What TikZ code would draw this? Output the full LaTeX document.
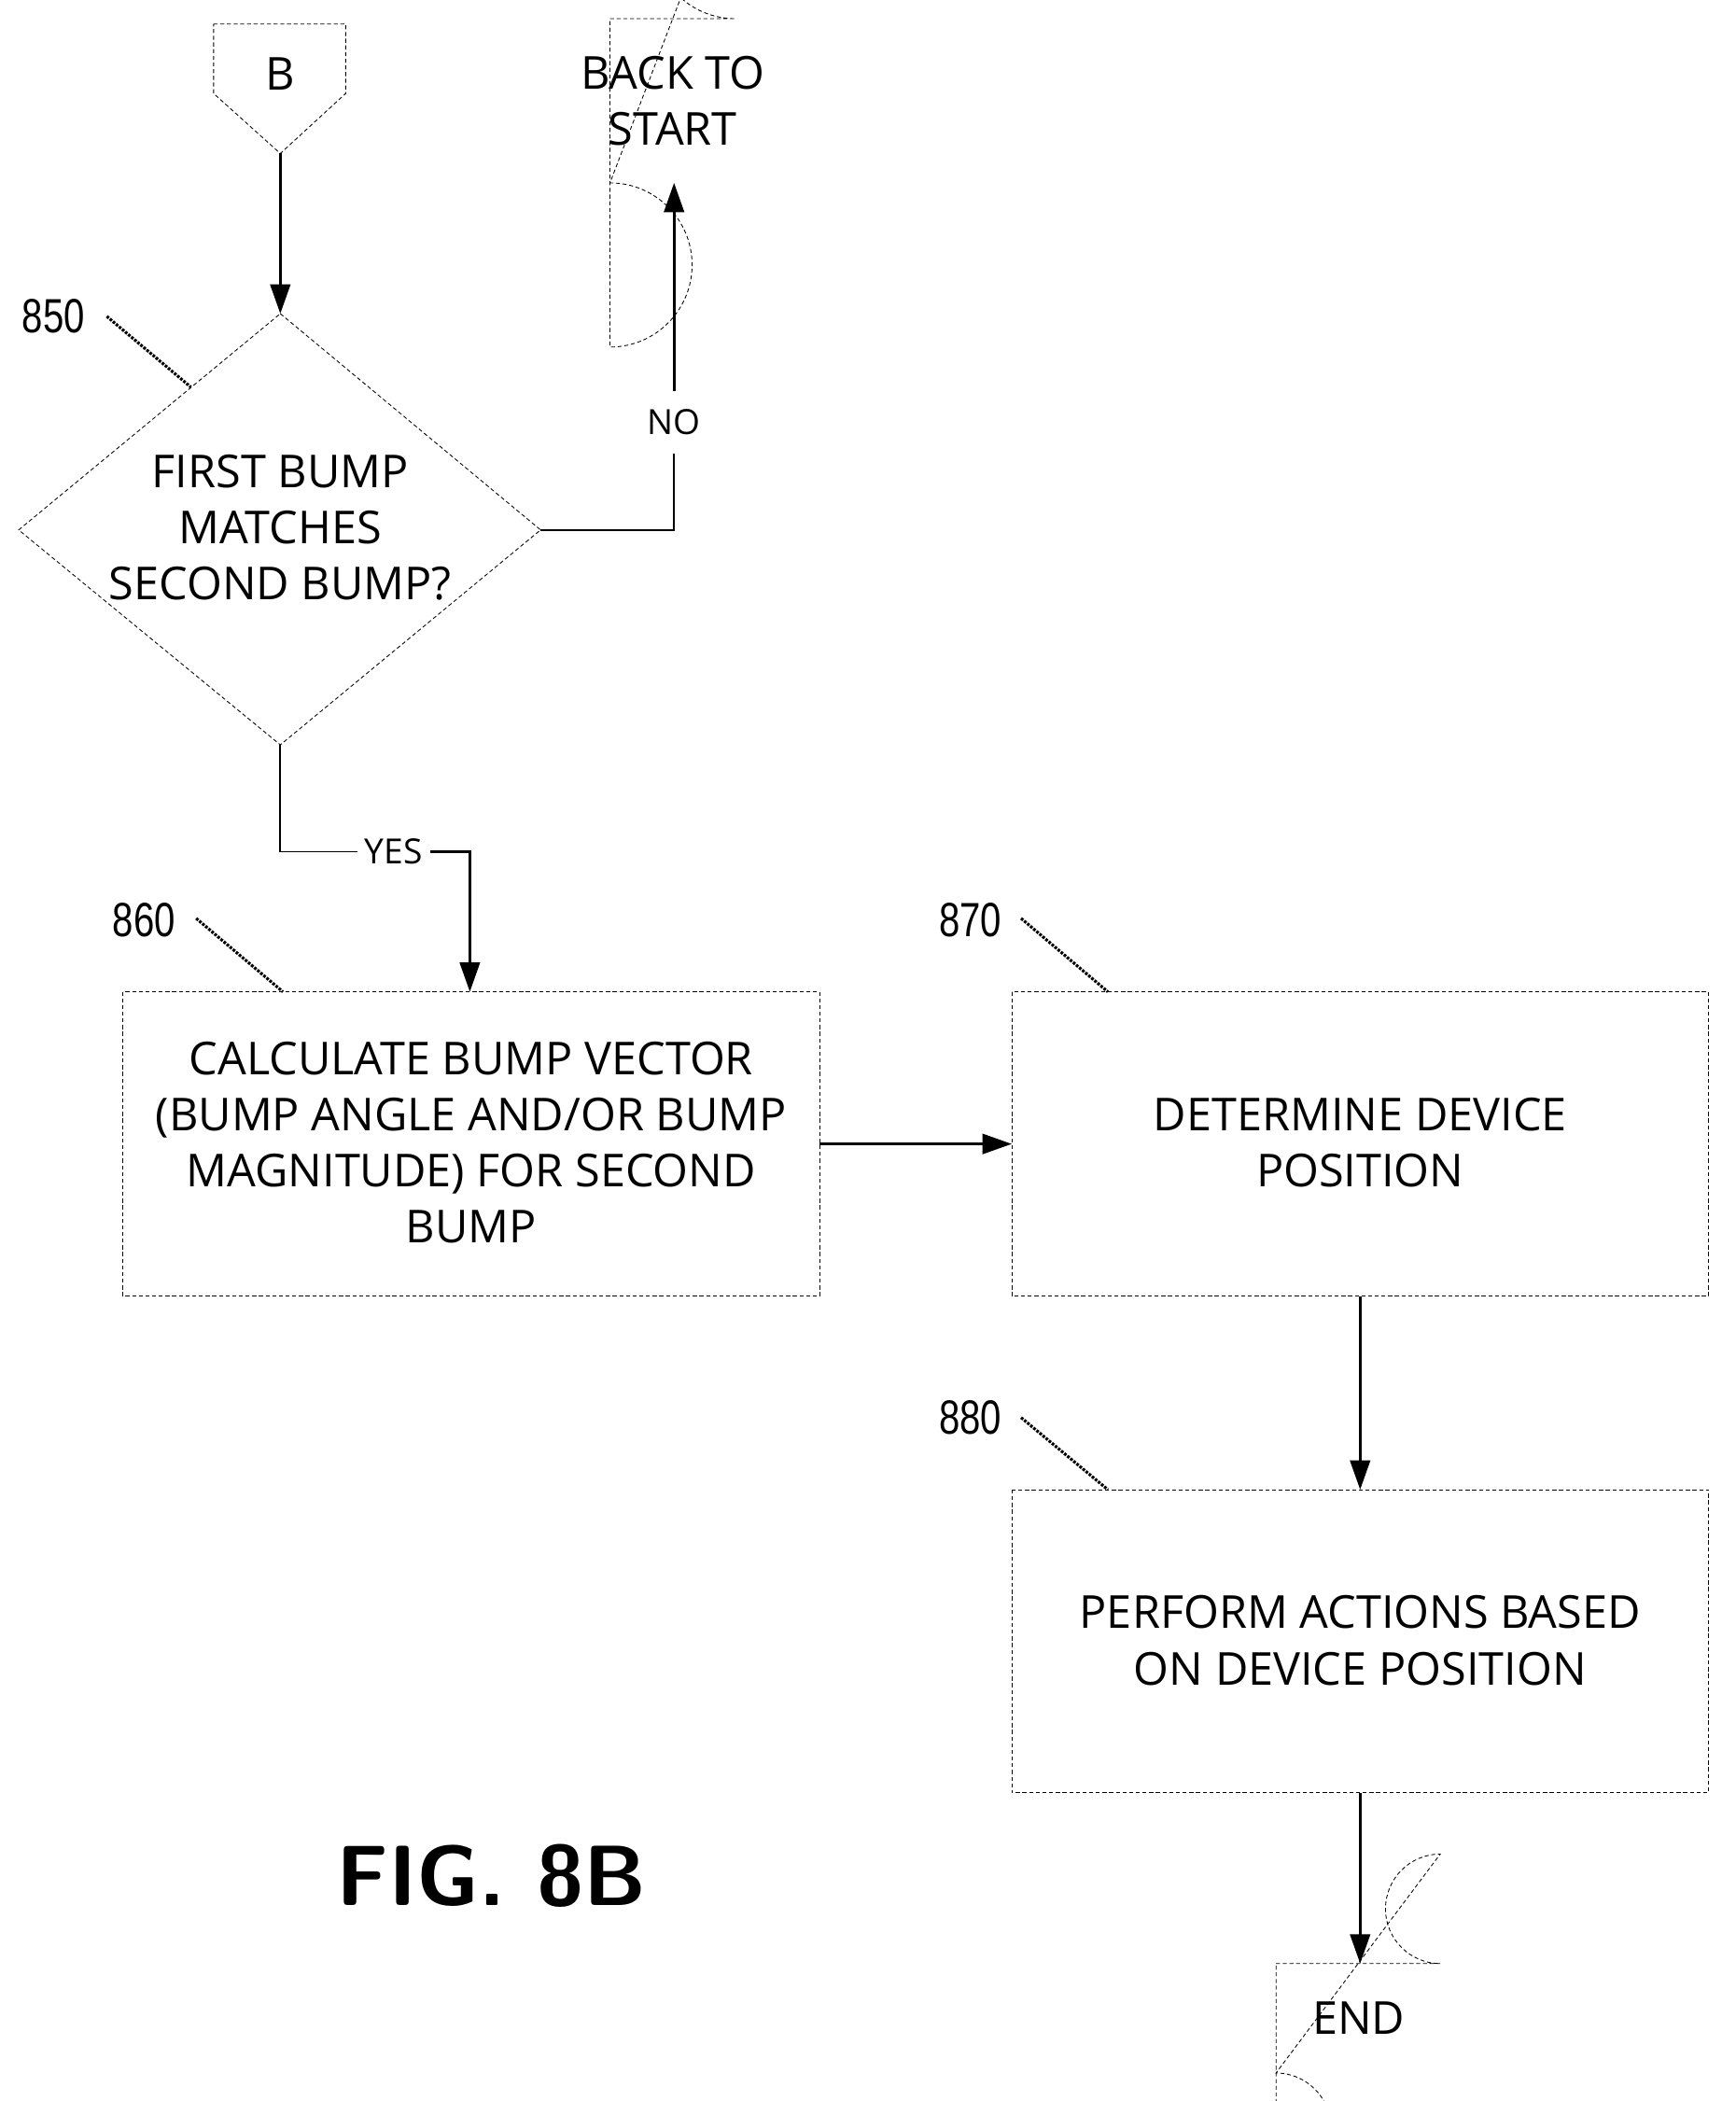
\documentclass[tikz,border=0pt]{standalone}
\usepackage{fontspec}
\setmainfont{Open Sans}
\newfontfamily\numfont{Liberation Sans}
\usetikzlibrary{arrows.meta,shapes.geometric}
\begin{document}
\begin{tikzpicture}[x=1pt,y=-1pt,
  box/.style={draw,dash pattern=on 3pt off 2pt,line width=0.6pt},
  txt/.style={font=\fontsize{34}{42}\selectfont,align=center},
  arr/.style={line width=2pt,-{Triangle[width=15pt,length=22pt]}},
  lead/.style={line width=2.2pt,dash pattern=on 2pt off 1pt},
  num/.style={font=\numfont\fontsize{36}{40}\selectfont,xscale=0.78}]
\useasboundingbox (0,0) rectangle (1300,1574);
% B connector
\draw[box] (160,18) -- (259,18) -- (259,70) -- (210,115) -- (160,70) -- cycle;
\node[txt] (B) at (210,55) {B};
\coordinate (Bb) at (210,115);
% back to start
\draw[box] (457,14) -- (551,14) arc[start angle=-90,end angle=90,radius=-61.5] -- (457,137) arc[start angle=90,end angle=270,radius=-61.5] -- cycle;
\node[txt] (bts) at (504,75.5) {BACK TO\\START};
\coordinate (btsb) at (505,137);
% diamond
\draw[box] (210,235) -- (405,397) -- (210,558) -- (14,397) -- cycle;
\coordinate (dt) at (210,235); \coordinate (dr) at (405,397); \coordinate (db) at (210,558);
\node[txt] (d) at (210,395) {FIRST BUMP\\MATCHES\\SECOND BUMP?};
% boxes
\draw[box] (92,743) rectangle (614,971);
\node[txt] (b860) at (353,856) {CALCULATE BUMP VECTOR\\(BUMP ANGLE AND/OR BUMP\\MAGNITUDE) FOR SECOND\\BUMP};
\draw[box] (758,743) rectangle (1280,971);
\node[txt] (b870) at (1019,856) {DETERMINE DEVICE\\POSITION};
\draw[box] (758,1116) rectangle (1280,1343);
\node[txt] (b880) at (1019,1229) {PERFORM ACTIONS BASED\\ON DEVICE POSITION};
% end
\draw[box] (956,1471) -- (1079,1471) arc[start angle=-90,end angle=90,radius=-41] -- (956,1553) arc[start angle=90,end angle=270,radius=-41] -- cycle;
\node[txt] (end) at (1018,1512) {END};
% arrows
\draw[arr] (Bb) -- (dt);
\draw[line width=1.2pt] (dr) -- (505,397) -- (505,340);
\node[font=\fontsize{26}{30}\selectfont] (no) at (505,316) {NO};
\draw[arr] (505,293) -- (btsb);
\draw[line width=1.2pt] (db) -- (210,638) -- (268,638);
\node[font=\fontsize{26}{30}\selectfont,inner sep=1pt] (yes) at (295,638) {YES};
\draw[arr] (322,638) -- (352,638) -- (352,743);
\draw[arr] (614,857) -- (758,857);
\draw[arr] (1019,971) -- (1019,1116);
\draw[arr] (1019,1343) -- (1019,1471);
% labels
\node[num] (l850) at (40,237) {850};
\draw[lead] (80,237) -- (143,290);
\node[num] (l860) at (108,689) {860};
\draw[lead] (147,688) -- (212,743);
\node[num] (l870) at (727,689) {870};
\draw[lead] (765,688) -- (830,743);
\node[num] (l880) at (727,1062) {880};
\draw[lead] (765,1062) -- (830,1116);
\node[font=\sffamily\bfseries\fontsize{64}{70}\selectfont] (fig) at (368,1405) {FIG. 8B};
\end{tikzpicture}
\end{document}
